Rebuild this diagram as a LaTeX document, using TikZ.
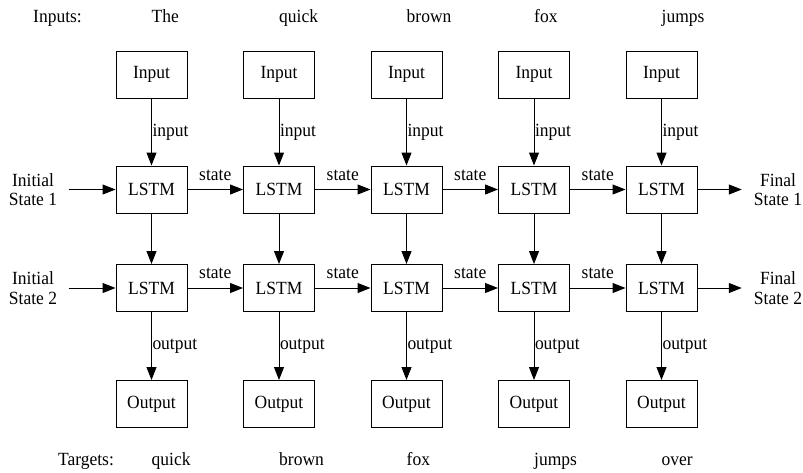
\documentclass[tikz,border=0pt]{standalone}
\usepackage{fontspec}
\setmainfont{Liberation Serif}[FakeStretch=0.94]
\usetikzlibrary{arrows.meta}
\begin{document}
\begin{tikzpicture}[x=1pt,y=-1pt,
  box/.style={draw, line width=1pt, minimum width=71pt, minimum height=47pt, inner sep=0pt, font=\fontsize{18.6}{19.5}\selectfont},
  arr/.style={line width=1pt, -{Triangle[length=13pt,width=10pt]}},
  lbl/.style={font=\fontsize{18.6}{19.5}\selectfont, inner sep=0pt},
  txt/.style={font=\fontsize{18.6}{19.5}\selectfont, inner sep=0pt},
  side/.style={font=\fontsize{18.6}{19.5}\selectfont, align=center, inner ysep=0pt, inner xsep=12pt}]
\useasboundingbox (0,0) rectangle (803,472);
\node[txt, anchor=base] (inputs) at (57.5,22) {Inputs:};
\node[txt, anchor=base] (targets) at (86,465) {Targets:};
\foreach \i/\x/\w/\t in {1/151.5/The/quick, 2/279/quick/brown, 3/406.5/brown/fox, 4/534/fox/jumps, 5/661.5/jumps/over}{
  \node[box] (in\i) at (\x,74.5) {Input};
  \node[box] (a\i) at (\x,189.5) {LSTM};
  \node[box] (b\i) at (\x,288) {LSTM};
  \node[box] (out\i) at (\x,404) {Output};
  \node[txt, anchor=base west] (w\i) at (\x,22) {\w};
  \node[txt, anchor=base west] (t\i) at (\x,465) {\t};
  \draw[arr] (in\i) -- node[lbl, anchor=west, xshift=0.5pt] {input} (a\i);
  \draw[arr] (a\i) -- (b\i);
  \draw[arr] (b\i) -- node[lbl, anchor=west, xshift=0.5pt] {output} (out\i);
}
\foreach \i/\j in {1/2, 2/3, 3/4, 4/5}{
  \draw[arr] (a\i) -- node[lbl, anchor=south, yshift=8.5pt] {state} (a\j);
  \draw[arr] (b\i) -- node[lbl, anchor=south, yshift=8.5pt] {state} (b\j);
}
\node[side, inner xsep=11.5pt] (init1) at (33,189.5) {Initial\\State 1};
\node[side, inner xsep=11.5pt] (init2) at (33,288) {Initial\\State 2};
\node[side] (fin1) at (778,189.5) {Final\\State 1};
\node[side] (fin2) at (778,288) {Final\\State 2};
\draw[arr] (init1) -- (a1);
\draw[arr] (init2) -- (b1);
\draw[arr] (a5) -- (fin1);
\draw[arr] (b5) -- (fin2);
\end{tikzpicture}
\end{document}
